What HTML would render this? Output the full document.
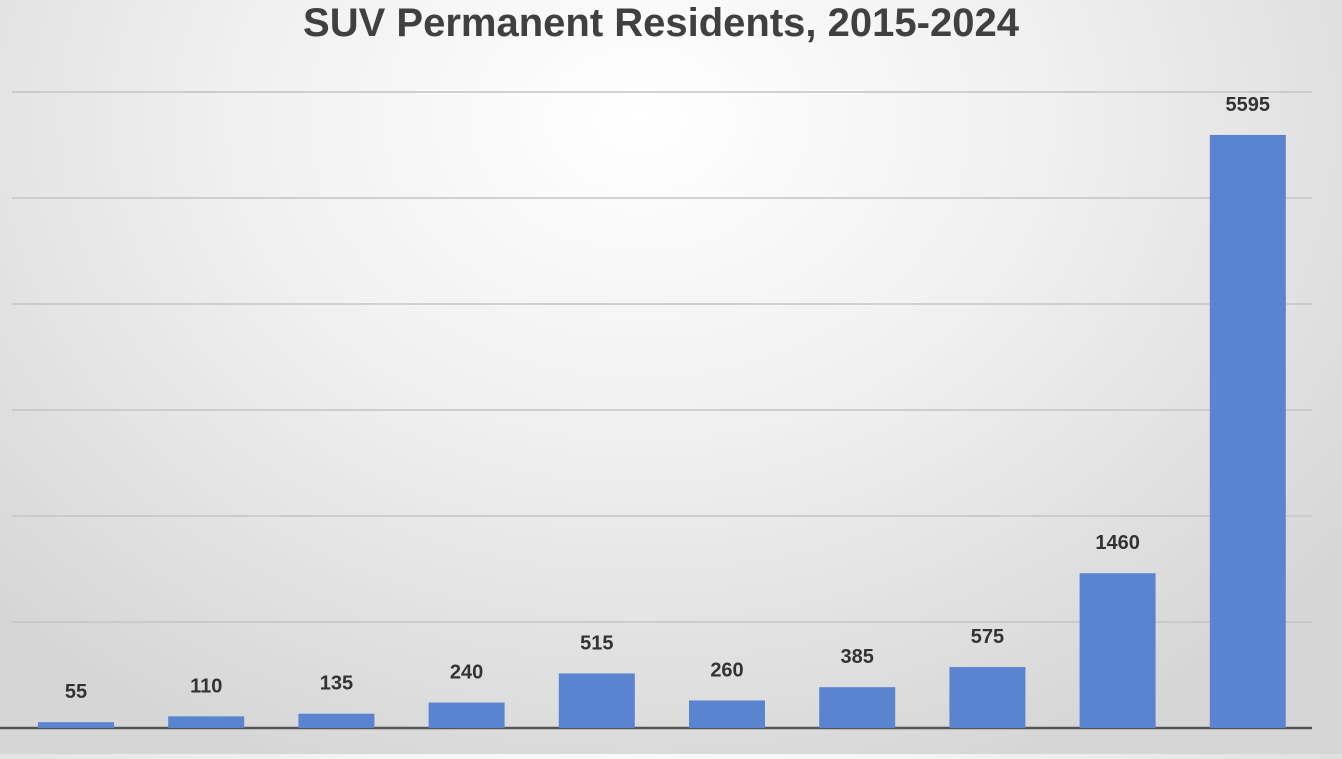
<!DOCTYPE html>
<html><head><meta charset="utf-8">
<style>
html,body{margin:0;padding:0;}
body{width:1342px;height:754px;overflow:hidden;background:radial-gradient(ellipse 900px 700px at 640px 120px,#ffffff 0%,#f0f0f0 45%,#d6d6d6 100%);font-family:"Liberation Sans",sans-serif;}
</style></head>
<body>
<svg id="chart" width="1342" height="754" xmlns="http://www.w3.org/2000/svg">
<text x="661" y="36" text-anchor="middle" font-family="Liberation Sans, sans-serif" font-weight="bold" font-size="40" fill="#404040">SUV Permanent Residents, 2015-2024</text>
<g id="grid"></g><g id="bars"></g><g id="labels"></g>
</svg>
<script>
const categories=["2015","2016","2017","2018","2019","2020","2021","2022","2023","2024"];
const values=[55,110,135,240,515,260,385,575,1460,5595];
const gridTicks=[0,1000,2000,3000,4000,5000,6000];
const NS="http://www.w3.org/2000/svg";
const baseY=728, maxY=92, yMax=6000;
const y=v=>baseY-(v/yMax)*(baseY-maxY);
const x0=76, step=130.2, bw=76;
const x=i=>x0+i*step;
const grid=document.getElementById('grid'),bars=document.getElementById('bars'),labels=document.getElementById('labels');
gridTicks.forEach(t=>{
 const l=document.createElementNS(NS,'line');
 
 
 l.setAttribute('x1',t===0?0:12);l.setAttribute('x2',1312);
 l.setAttribute('y1',y(t));l.setAttribute('y2',y(t));
 l.setAttribute('stroke',t===0?'#555':'#c4c4c4');l.setAttribute('stroke-width',t===0?2.5:1.5);
 grid.appendChild(l);
});
values.forEach((v,i)=>{
 const r=document.createElementNS(NS,'rect');
 
 
 r.setAttribute('x',x(i)-bw/2);r.setAttribute('y',y(v));
 r.setAttribute('width',bw);r.setAttribute('height',baseY-y(v));
 r.setAttribute('fill','#5b84d0');
 bars.appendChild(r);
 const t=document.createElementNS(NS,'text');
 
 
 t.setAttribute('x',x(i));t.setAttribute('y',y(v)-24);
 t.setAttribute('text-anchor','middle');t.setAttribute('font-size','20');t.setAttribute('font-weight','bold');
 t.setAttribute('fill','#333');t.setAttribute('font-family','Liberation Sans, sans-serif');
 t.textContent=v;
 labels.appendChild(t);
});
</script>
</body></html>
